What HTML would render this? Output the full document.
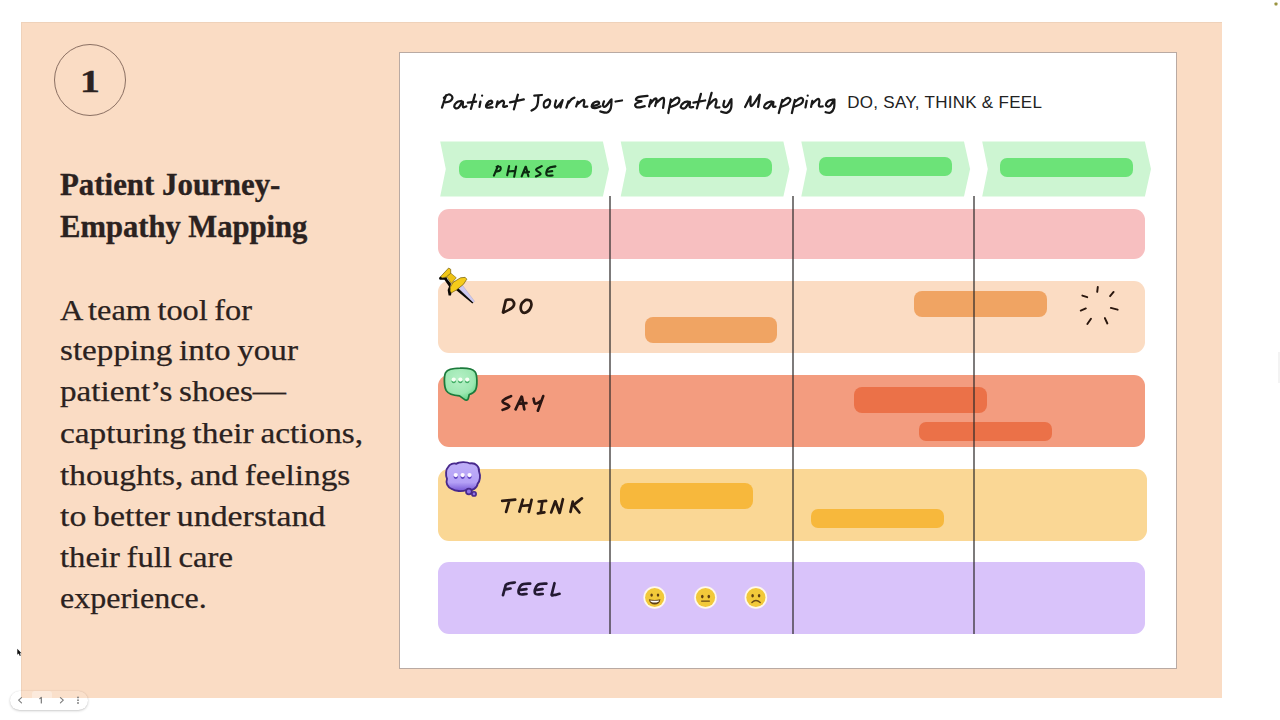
<!DOCTYPE html>
<html>
<head>
<meta charset="utf-8">
<title>Patient Journey - Empathy Mapping</title>
<style>
html,body{margin:0;padding:0;}
body{width:1280px;height:720px;overflow:hidden;background:#ffffff;position:relative;font-family:"Liberation Sans",sans-serif;}
.abs{position:absolute;}
#peach{left:21px;top:21.6px;width:1201px;height:676px;background:#fadcc4;box-shadow:inset 1px 1px 0 #efd2ba;}
#card{left:399px;top:52px;width:776px;height:615px;background:#ffffff;border:1px solid #b9aaa3;}
#num{left:53.9px;top:43.7px;width:70px;height:70px;border:1.2px solid #8a6f62;border-radius:50%;}
#numt{left:54px;top:45.5px;width:72px;height:72px;line-height:72px;transform:scaleX(1.28);-webkit-text-stroke:0.4px #2b2220;text-align:center;font-family:"Liberation Serif",serif;font-weight:bold;font-size:31px;color:#2b2220;}
.h{font-family:"Liberation Serif",serif;font-weight:bold;color:#2b2220;-webkit-text-stroke:0.35px #2b2220;font-size:31px;line-height:41.2px;white-space:nowrap;transform-origin:0 0;}
.b{font-family:"Liberation Serif",serif;word-spacing:-1.5px;color:#2b2220;-webkit-text-stroke:0.25px #2b2220;font-size:30px;line-height:41.2px;white-space:nowrap;transform-origin:0 0;}
.row{left:438px;width:707px;border-radius:11px;}
.bar{border-radius:8px;}
.vl{width:2px;background:rgba(45,42,42,0.62);top:195.6px;height:438.4px;}
.pill{background:#6ce378;border-radius:7px;height:18.6px;width:132.5px;}
.lab{font-family:"Liberation Sans",sans-serif;font-style:italic;font-weight:bold;color:#161616;letter-spacing:3px;font-size:19px;white-space:nowrap;}
</style>
</head>
<body>
<div id="peach" class="abs"></div>
<div id="card" class="abs"></div>

<!-- left panel -->
<div id="num" class="abs"></div>
<div id="numt" class="abs">1</div>
<div class="abs h" id="h1" style="left:60px;top:163.9px;transform:scaleX(0.996);">Patient Journey-</div>
<div class="abs h" id="h2" style="left:60px;top:205.5px;transform:scaleX(0.987);">Empathy Mapping</div>
<div class="abs b" id="b1" style="left:60px;top:288.6px;transform:scaleX(1.0788);">A team tool for</div>
<div class="abs b" id="b2" style="left:60px;top:329.1px;transform:scaleX(1.1053);">stepping into your</div>
<div class="abs b" id="b3" style="left:60px;top:369.8px;transform:scaleX(1.1062);">patient’s shoes—</div>
<div class="abs b" id="b4" style="left:60px;top:411.6px;transform:scaleX(1.1116);">capturing their actions,</div>
<div class="abs b" id="b5" style="left:60px;top:453.6px;transform:scaleX(1.1117);">thoughts, and feelings</div>
<div class="abs b" id="b6" style="left:60px;top:494.8px;transform:scaleX(1.1277);">to better understand</div>
<div class="abs b" id="b7" style="left:60px;top:536.1px;transform:scaleX(1.0909);">their full care</div>
<div class="abs b" id="b8" style="left:60px;top:577.1px;transform:scaleX(1.0676);">experience.</div>

<!-- chart -->
<svg class="abs" style="left:0;top:0" width="1280" height="720" viewBox="0 0 1280 720">
  <g fill="#cdf5d2">
    <polygon points="440.2,141.6 602.9,141.6 609.0,169 602.9,196.4 440.2,196.4 445.8,169"/>
    <polygon points="620.7,141.6 783.4,141.6 789.5,169 783.4,196.4 620.7,196.4 626.3,169"/>
    <polygon points="801.3,141.6 964.0,141.6 970.1,169 964.0,196.4 801.3,196.4 806.9,169"/>
    <polygon points="982.2,141.6 1144.9,141.6 1151.0,169 1144.9,196.4 982.2,196.4 987.8,169"/>
  </g>
</svg>

<div class="abs pill" style="left:459px;top:159.8px;"></div>
<div class="abs pill" style="left:639px;top:158px;"></div>
<div class="abs pill" style="left:819.3px;top:156.8px;height:19px;"></div>
<div class="abs pill" style="left:1000.2px;top:158px;"></div>
<div class="abs row" style="top:208.5px;height:50.5px;background:#f7bfc0;"></div>
<div class="abs row" style="top:280.5px;height:72px;background:#fbdcc3;"></div>
<div class="abs row" style="top:375px;height:71.5px;background:#f39c7f;"></div>
<div class="abs row" style="top:468.5px;height:72px;background:#fad795;width:709px;"></div>
<div class="abs row" style="top:561.5px;height:72px;background:#d9c3fa;"></div>

<div class="abs bar" style="left:645px;top:317px;width:132px;height:26px;background:#f0a463;"></div>
<div class="abs bar" style="left:914px;top:291px;width:133px;height:26px;background:#f0a463;"></div>
<div class="abs bar" style="left:854px;top:387px;width:133px;height:26px;background:#eb7148;"></div>
<div class="abs bar" style="left:919.3px;top:421.7px;width:132.5px;height:19px;border-radius:7px;background:#eb7148;"></div>
<div class="abs bar" style="left:620px;top:482.5px;width:133px;height:26px;background:#f7b83c;"></div>
<div class="abs bar" style="left:811px;top:508.7px;width:132.6px;height:19.2px;border-radius:7px;background:#f7b83c;"></div>

<div class="abs vl" style="left:609px;"></div>
<div class="abs vl" style="left:792px;"></div>
<div class="abs vl" style="left:973px;"></div>

<div class="abs" id="sub" style="left:847.3px;top:93px;font-size:17px;color:#222;white-space:nowrap;letter-spacing:0.28px;">DO, SAY, THINK &amp; FEEL</div>


<!-- pagination -->
<div class="abs" style="left:32px;top:691px;width:20px;height:8px;background:rgba(255,255,255,0.35);border-radius:3px 3px 0 0;"></div>
<div class="abs" id="pag" style="left:10px;top:690.5px;width:77.5px;height:19.5px;border-radius:10px;background:rgba(255,255,255,0.12);box-shadow:0 1px 2.5px rgba(0,0,0,0.2), 0 0 1px rgba(0,0,0,0.12);"></div>
<svg class="abs" style="left:0;top:680px" width="100" height="40" viewBox="0 680 100 40" fill="none" stroke="#7a7a7a" stroke-width="1.1" stroke-linecap="round" stroke-linejoin="round">
  <path d="M21.5,697.6 L18.6,700.2 L21.5,702.8"/>
  <path d="M60.4,697.6 L63.3,700.2 L60.4,702.8"/>
  <path d="M39.8,698.6 L41.3,697.4 L41.3,703" stroke="#6e6e6e"/>
  <g fill="#7a7a7a" stroke="none"><circle cx="78" cy="697.4" r="0.9"/><circle cx="78" cy="700.2" r="0.9"/><circle cx="78" cy="703" r="0.9"/></g>
</svg>
<!--ICONS-->
<svg class="abs" id="icons" style="left:0;top:0" width="1280" height="720" viewBox="0 0 1280 720">
  <defs>
    <radialGradient id="gG" cx="0.45" cy="0.35" r="0.75">
      <stop offset="0" stop-color="#b6f0c6"/><stop offset="0.6" stop-color="#9de8b2"/><stop offset="1" stop-color="#4fcf77"/>
    </radialGradient>
    <linearGradient id="gP" x1="0" y1="0" x2="0" y2="1">
      <stop offset="0" stop-color="#c0b0f8"/><stop offset="0.7" stop-color="#b4a0f6"/><stop offset="1" stop-color="#7657d6"/>
    </linearGradient>
  </defs>

  <!-- push pin -->
  <g transform="translate(430,260) scale(0.069444)">
    <path fill="#0a0806" d="M128,258 L150,238 L182,256 L236,246 L248,272 L302,342 L292,392 L292,442 L308,478 L302,512 L268,512 L254,432 L274,382 L208,284 L140,284 Z"/>
    <path fill="#0a0806" d="M374,432 L410,404 L625,612 L610,628 Z"/>
    <path fill="#cdc9f2" stroke="#9a98b4" stroke-width="5" stroke-linejoin="round" d="M410,406 L468,364 L641,594 L625,612 Z"/>
    <path fill="#f1c718" stroke="#6e5a08" stroke-width="10" stroke-linejoin="round" d="M152,240 L268,116 L298,134 L298,192 L236,246 L182,256 Z"/>
    <path fill="#eec214" stroke="#6e5a08" stroke-width="8" stroke-linejoin="round" d="M240,242 L300,190 L378,256 L308,338 Z"/>
    <path fill="#f5cb1a" stroke="#6e5a08" stroke-width="10" stroke-linejoin="round" d="M292,392 L332,322 L440,256 L506,250 L530,276 L482,350 L382,430 L306,474 L292,440 Z"/>
  </g>

  <!-- green speech bubble -->
  <g transform="translate(435,360) scale(0.0625)">
    <path fill="url(#gG)" stroke="#1c7a3c" stroke-width="28" stroke-linejoin="round" d="M400,130 C540,124 600,137 640,187 C680,237 678,420 650,478 C630,518 590,540 548,552 L532,618 C526,648 492,650 470,630 L392,574 C300,568 215,545 180,490 C145,430 140,262 170,202 C205,142 290,132 400,130 Z"/>
    <ellipse cx="300" cy="338" rx="34" ry="34" fill="#3fae63"/>
    <ellipse cx="405" cy="338" rx="34" ry="34" fill="#3fae63"/>
    <ellipse cx="515" cy="338" rx="34" ry="34" fill="#3fae63"/>
    <circle cx="300" cy="312" r="34" fill="#f6fff4"/>
    <circle cx="405" cy="312" r="34" fill="#f6fff4"/>
    <circle cx="515" cy="312" r="34" fill="#f6fff4"/>
  </g>

  <!-- purple thought bubble -->
  <g transform="translate(437,455) scale(0.0625)">
    <path fill="url(#gP)" stroke="#48298c" stroke-width="30" stroke-linejoin="round" d="M310,140 C350,105 480,105 530,135 C620,120 680,190 672,260 C700,330 690,420 650,460 C640,540 560,575 470,560 C400,590 290,580 240,545 C160,520 140,440 160,380 C135,320 140,230 180,190 C200,140 270,125 310,140 Z"/>
    <circle cx="510" cy="585" r="46" fill="#8e72e6" stroke="#48298c" stroke-width="28"/>
    <circle cx="592" cy="622" r="34" fill="#8e72e6" stroke="#48298c" stroke-width="26"/>
    <ellipse cx="300" cy="348" rx="34" ry="34" fill="#5d3fc0"/>
    <ellipse cx="410" cy="348" rx="34" ry="34" fill="#5d3fc0"/>
    <ellipse cx="520" cy="348" rx="34" ry="34" fill="#5d3fc0"/>
    <circle cx="300" cy="320" r="34" fill="#fdf8ff"/>
    <circle cx="410" cy="320" r="34" fill="#fdf8ff"/>
    <circle cx="520" cy="320" r="34" fill="#fdf8ff"/>
  </g>

  <!-- burst -->
  <g transform="translate(1070,280) scale(0.069444)" stroke="#2a170e" stroke-width="28" stroke-linecap="round" fill="none">
    <path d="M400,102 L392,170 M628,172 L577,232 M588,402 L686,427 M502,548 L538,626 M302,558 L250,634 M228,410 L155,440 M178,224 L248,247"/>
  </g>

  <!-- emojis -->
  <g>
    <circle cx="654.7" cy="597.5" r="11.3" fill="#fff8ea"/>
    <circle cx="654.7" cy="597.5" r="9.6" fill="#f2c93a"/>
    <ellipse cx="651.6" cy="595.1" rx="1.25" ry="1.7" fill="#5e3f12"/>
    <ellipse cx="658" cy="595.1" rx="1.25" ry="1.7" fill="#5e3f12"/>
    <path d="M648.9,599.2 Q654.7,600.6 660.5,599.2 Q659.6,604.6 654.7,604.6 Q649.8,604.6 648.9,599.2 Z" fill="#5e3f12"/>
    <path d="M650.2,600.4 Q654.7,601.2 659.2,600.4 Q658.8,602.4 654.7,602.4 Q650.6,602.4 650.2,600.4 Z" fill="#ffffff"/>

    <circle cx="705.5" cy="597.5" r="11.3" fill="#fff8ea"/>
    <circle cx="705.5" cy="597.5" r="9.6" fill="#f2c93a"/>
    <ellipse cx="702.3" cy="596.6" rx="1.3" ry="1.8" fill="#5e3f12"/>
    <ellipse cx="708.8" cy="596.6" rx="1.3" ry="1.8" fill="#5e3f12"/>
    <path d="M701.6,601.1 L709.4,601.1" stroke="#6b4a16" stroke-width="1.3" stroke-linecap="round"/>

    <circle cx="755.9" cy="597.5" r="11.3" fill="#fff8ea"/>
    <circle cx="755.9" cy="597.5" r="9.6" fill="#f2c93a"/>
    <ellipse cx="752.6" cy="595.7" rx="1.3" ry="1.8" fill="#5e3f12"/>
    <ellipse cx="759.1" cy="595.7" rx="1.3" ry="1.8" fill="#5e3f12"/>
    <path d="M751.9,602.4 Q755.9,598.4 760.2,602.4" stroke="#6b4a16" stroke-width="1.4" stroke-linecap="round" fill="none"/>
  </g>

  <!-- mouse cursor -->
  <path d="M17.3,648.8 L17.3,654.8 L18.7,653.6 L19.8,656 L20.8,655.6 L19.8,653.3 L21.5,653.2 Z" fill="#111"/>
  <!-- top-right dot -->
  <rect x="1274.5" y="2.5" width="3" height="3" rx="0.8" fill="#9a9440"/>
  <rect x="1278" y="352" width="2" height="31" fill="#f3f3f3"/>
</svg>

<!--/ICONS-->
<!--HAND-->
<svg class="abs" id="hand" style="left:0;top:0" width="1280" height="720" viewBox="0 0 1280 720" fill="none" stroke-linecap="round" stroke-linejoin="round">
<path stroke="#1a1a1a" stroke-width="2.25" d="M446.0 95.4C445.5 96.8 444.6 99.4 443.8 102.0C443.0 104.5 442.4 106.5 442.0 107.7M443.9 97.8C444.8 97.1 446.7 94.6 448.5 94.5C450.3 94.4 452.2 95.8 452.4 97.3C452.6 98.7 451.1 100.5 449.3 101.6C447.5 102.6 444.7 102.1 443.6 102.3M461.3 101.0C460.3 101.2 458.1 101.1 456.7 102.4C455.3 103.6 454.0 105.9 454.4 107.0C454.7 108.2 456.6 109.0 458.3 107.8C460.0 106.7 461.6 101.7 462.6 101.6C463.5 101.4 462.2 106.1 463.0 107.0C463.7 108.0 465.6 106.5 466.3 106.4M474.9 94.7C474.5 96.3 473.5 99.8 472.7 102.8C471.9 105.7 471.3 107.6 470.9 108.9M467.8 102.7L476.1 101.6M480.4 101.7L479.5 106.9M482.1 95.7l0.01 0M487.3 105.3C488.2 104.8 491.1 104.1 491.9 103.1C492.6 102.2 492.0 100.6 491.1 100.6C490.1 100.6 488.1 101.7 487.2 103.1C486.3 104.6 485.5 106.6 486.6 107.4C487.7 108.3 491.3 107.3 492.5 107.3M497.6 101.3L496.3 106.9M497.4 104.4C498.3 103.6 500.6 101.2 502.0 100.8C503.4 100.4 503.7 101.1 504.0 102.4C504.2 103.6 502.7 105.9 503.3 106.7C504.0 107.4 506.2 106.2 507.0 106.1M517.9 94.7C517.4 96.3 516.5 99.7 515.7 102.8C514.9 105.8 514.3 107.9 513.9 109.3M510.0 102.3L523.8 99.3M534.3 95.7L541.9 95.0M538.4 95.9C538.1 98.0 538.4 103.2 536.9 106.3C535.5 109.3 532.6 109.7 531.5 110.6M548.2 99.5C547.4 100.0 545.2 100.4 544.4 102.0C543.6 103.6 543.6 106.4 544.4 107.3C545.2 108.2 547.1 107.4 548.3 106.3C549.5 105.1 550.1 102.9 550.2 101.6C550.4 100.2 549.2 100.1 548.9 99.7M556.0 100.5C555.8 101.7 554.6 104.9 554.9 106.3C555.2 107.6 555.8 108.1 557.2 107.0C558.7 106.0 561.0 102.4 562.0 101.2M562.6 100.1L560.5 107.3M568.4 101.3L566.4 107.7M568.1 103.5C568.9 102.6 570.4 100.4 571.7 99.2C573.0 98.0 573.8 98.0 574.4 97.7M577.8 101.7L576.2 106.5M577.6 104.1C578.7 103.3 581.5 100.5 582.9 100.0C584.3 99.5 584.1 100.3 584.3 101.6C584.5 102.9 583.2 105.2 583.8 106.3C584.4 107.3 586.6 106.5 587.3 106.6M592.5 106.3C593.7 105.9 597.4 105.1 598.5 104.2C599.6 103.2 598.9 101.9 597.9 101.7C596.8 101.4 594.6 102.0 593.3 103.1C592.1 104.3 591.5 106.0 591.8 107.0C592.1 108.1 593.1 108.3 594.9 108.2C596.7 108.1 599.3 106.8 600.5 106.4M604.0 101.3C603.8 102.2 602.6 104.5 603.0 105.5C603.3 106.5 604.1 107.4 605.7 106.3C607.3 105.1 609.8 101.3 610.8 100.0M611.5 99.4C611.4 101.2 611.6 105.5 610.8 108.2C609.9 110.9 609.4 111.9 607.2 112.5C605.1 113.2 601.8 111.7 600.3 111.4M615.6 101.5L622.0 100.5M647.5 95.8C645.6 96.1 640.5 96.2 638.2 97.1C635.9 98.0 635.6 99.3 636.3 100.1C637.0 101.0 640.4 101.0 641.4 101.2M641.4 101.5C640.2 102.0 636.5 102.7 635.6 103.9C634.7 105.1 635.2 107.0 637.1 107.4C639.0 107.9 643.1 106.4 644.7 106.1M650.7 100.0L649.1 106.5M650.3 103.8C651.2 102.7 653.6 99.5 654.9 98.7C656.2 98.0 656.5 98.6 656.6 100.1C656.6 101.6 655.5 104.8 655.2 106.0M656.4 102.9C657.6 101.9 660.5 98.7 662.1 98.1C663.7 97.4 663.8 97.7 664.0 99.7C664.2 101.8 663.3 106.2 663.1 107.8M670.9 99.5L668.3 113.0M670.5 102.4C671.7 101.5 674.6 98.3 676.4 97.8C678.3 97.2 679.3 98.4 679.4 99.7C679.6 101.1 679.0 102.6 677.1 104.2C675.2 105.7 671.5 106.5 670.1 107.0M687.8 101.5C686.9 101.8 684.8 101.8 683.4 103.0C681.9 104.2 680.5 106.2 680.8 107.2C681.2 108.3 683.2 109.1 685.1 108.0C686.9 106.9 688.8 102.0 689.7 101.8C690.7 101.6 689.0 105.9 689.7 107.0C690.5 108.0 692.5 107.0 693.2 107.0M700.9 93.9L696.9 108.3M693.5 102.7L705.2 100.5M711.6 92.9L707.2 108.3M708.9 104.7C710.1 103.6 713.0 100.2 714.6 99.5C716.2 98.7 716.3 99.5 716.5 101.1C716.7 102.6 714.9 105.7 715.5 107.0C716.1 108.3 718.6 107.3 719.4 107.4M724.3 100.9C724.2 102.0 723.0 104.9 723.5 106.0C724.0 107.2 725.3 107.8 726.8 106.5C728.3 105.2 729.9 101.3 730.7 99.9M731.4 99.1C731.3 101.0 731.9 105.6 731.0 108.4C730.1 111.2 729.3 111.9 727.2 112.6C725.2 113.3 722.5 111.9 721.2 111.7M750.3 96.7L745.1 107.0M750.6 96.7C750.8 98.6 749.6 106.4 751.5 106.0C753.3 105.6 757.9 97.1 759.6 94.7M759.8 94.8L758.1 106.9M771.6 101.5C770.6 101.8 768.2 101.9 766.7 103.0C765.1 104.2 763.9 105.9 764.1 107.0C764.4 108.0 766.0 109.1 767.9 108.0C769.7 106.9 772.0 102.1 773.0 101.8C774.1 101.5 772.5 105.5 773.0 106.5C773.5 107.5 775.0 106.5 775.5 106.5M782.3 100.0L778.8 113.0M781.9 102.4C783.0 101.5 785.3 98.6 787.1 98.1C788.8 97.6 790.3 98.7 790.4 99.9C790.5 101.2 789.5 102.7 787.6 104.2C785.6 105.6 782.4 106.3 781.0 106.9M794.9 100.0L791.9 113.0M794.5 102.4C795.7 101.5 798.4 98.6 800.2 98.1C802.0 97.5 803.0 98.7 803.1 99.9C803.2 101.2 802.6 102.7 800.7 104.2C798.7 105.6 795.1 106.3 793.7 106.9M806.7 100.9L805.5 107.4M807.7 95.7l0.01 0M812.3 100.9L811.1 106.9M812.3 103.8C813.4 102.8 816.1 99.6 817.6 99.0C819.0 98.4 819.1 99.4 819.4 100.9C819.7 102.3 818.3 104.9 819.0 106.0C819.6 107.2 821.9 106.4 822.7 106.4M833.0 99.6C832.0 99.9 829.8 99.7 828.3 100.9C826.9 102.0 825.7 104.0 826.0 105.1C826.3 106.2 828.1 107.2 829.7 106.1C831.4 105.1 833.2 101.2 834.1 99.9M834.4 99.5C834.3 101.3 834.7 105.2 834.0 107.9C833.2 110.6 832.4 111.7 830.7 112.6C829.0 113.5 826.6 112.3 825.6 112.2"/>
<path stroke="#0b2a10" stroke-width="2.15" d="M497.9 166.1L493.9 175.6M496.6 166.7C497.3 166.7 499.4 166.1 500.1 166.8C500.8 167.5 501.0 169.2 500.1 170.2C499.2 171.2 496.6 171.4 495.7 171.7M509.1 166.1L507.2 175.2M516.1 166.5L514.2 176.6M508.3 171.5L514.6 170.9M525.5 166.8L521.7 176.3M525.9 166.8L528.4 176.2M523.8 172.5L529.0 171.9M541.7 166.2C540.6 166.9 536.3 168.0 536.1 169.6C535.9 171.2 540.6 172.4 540.6 173.8C540.6 175.3 537.0 176.0 536.0 176.5M555.4 166.4C553.9 166.8 550.1 166.6 548.3 168.4C546.5 170.1 545.8 173.4 546.7 174.9C547.5 176.4 551.3 175.4 552.6 175.5M548.2 171.7L552.2 171.1"/>
<path stroke="#2a1a12" stroke-width="2.7" d="M505.8 300.4L503.0 312.4M506.5 299.8C507.7 299.9 511.2 298.8 512.5 300.3C513.9 301.8 514.9 304.4 513.0 306.9C511.1 309.5 505.4 311.4 503.4 312.6M525.5 300.0C524.7 300.9 522.2 302.0 521.4 304.3C520.6 306.6 520.6 309.6 521.6 311.2C522.7 312.9 524.6 313.3 526.5 312.3C528.5 311.4 530.3 308.8 531.1 306.5C531.9 304.1 531.3 302.3 530.4 300.9C529.4 299.5 527.3 300.0 526.5 299.8"/>
<path stroke="#2a1512" stroke-width="2.7" d="M511.0 396.1C509.3 397.2 503.0 399.2 502.6 401.3C502.3 403.5 509.4 404.5 509.3 406.3C509.3 408.1 504.0 409.2 502.6 409.9M521.5 396.7L515.6 409.4M521.9 396.8L524.3 409.3M518.1 403.9L526.4 403.1M533.6 398.7C534.0 399.7 533.8 403.2 535.4 403.7C536.9 404.1 539.9 401.5 541.0 401.0M543.2 396.1L537.9 410.7"/>
<path stroke="#2a1a12" stroke-width="2.7" d="M502.2 500.8L515.2 499.7M509.2 501.0L506.1 511.9M522.9 499.7L519.4 511.5M531.6 499.8L528.8 511.9M521.1 506.0L529.8 505.2M538.7 501.5L546.1 500.9M542.3 501.9L540.8 512.3M537.9 513.3L544.4 512.4M555.1 501.5L551.2 512.4M555.5 501.5L559.4 512.8M562.9 499.2L559.7 512.8M572.8 501.5L570.5 511.9M581.9 498.4L572.1 506.1M574.2 506.1L579.4 512.5"/>
<path stroke="#241a33" stroke-width="2.7" d="M505.7 585.1L503.0 595.1M506.5 584.3C507.3 584.1 508.9 583.4 510.6 583.0C512.3 582.7 513.9 582.6 514.8 582.5M505.2 589.4L510.5 588.5M530.2 583.6C528.4 583.9 523.4 583.1 521.1 585.2C518.8 587.3 517.9 591.8 519.0 593.6C520.2 595.4 525.0 593.9 526.5 594.0M520.7 589.8L526.4 589.1M546.4 583.6C544.5 583.9 539.6 583.1 537.3 585.2C535.0 587.3 534.1 591.8 535.2 593.6C536.3 595.4 541.1 593.9 542.7 594.0M536.8 589.8L542.5 589.1M554.5 583.2L551.6 594.9M552.0 595.4C552.8 595.3 554.2 595.2 555.7 594.8C557.3 594.5 558.7 594.0 559.5 593.8"/>
</svg>
<!--/HAND-->
</body>
</html>
